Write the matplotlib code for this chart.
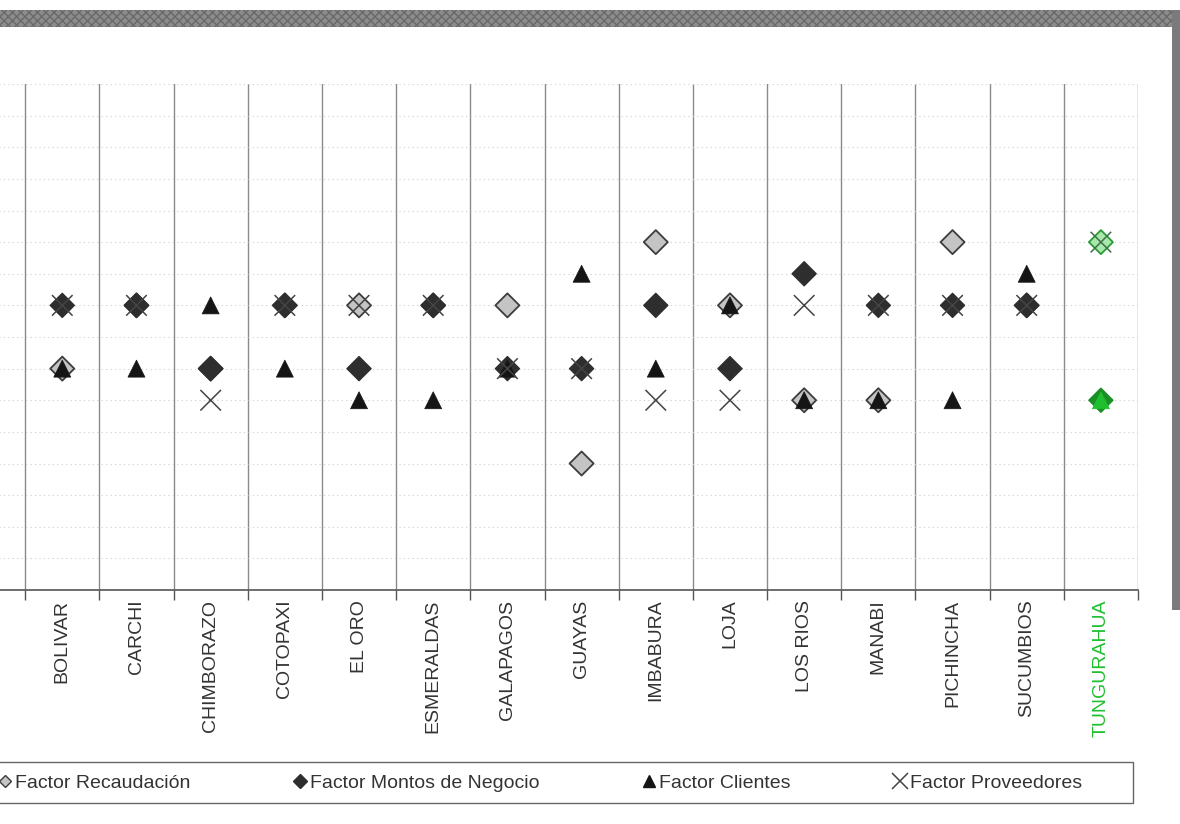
import matplotlib.pyplot as plt
import numpy as np
from matplotlib.lines import Line2D
from matplotlib.patches import Rectangle

plt.rcParams['font.family'] = ['Liberation Sans', 'DejaVu Sans']

nan = np.nan
provincias = ["AZUAY", "BOLIVAR", "CARCHI", "CHIMBORAZO", "COTOPAXI", "EL ORO",
              "ESMERALDAS", "GALAPAGOS", "GUAYAS", "IMBABURA", "LOJA", "LOS RIOS",
              "MANABI", "PICHINCHA", "SUCUMBIOS", "TUNGURAHUA"]
recaudacion = [nan, 7, 9, 7, 9, 9, 9, 9, 4, 11, 9, 6, 6, 11, 9, 11]
montos = [nan, 9, 9, 7, 9, 7, 9, 7, 7, 9, 7, 10, 9, 9, 9, 6]
clientes = [nan, 7, 7, 9, 7, 6, 6, 7, 10, 7, 9, 6, 6, 6, 10, 6]
proveedores = [nan, 9, 9, 6, 9, 9, 9, 7, 7, 6, 6, 9, 9, 9, 9, 11]

verde = "#1fbf2f"
x = np.arange(len(provincias))

fig = plt.figure(figsize=(11.8, 8.24), dpi=100)

# marco gris del area del grafico
fig.patches.append(Rectangle((0, 1 - 27 / 824), 1175 / 1180, 17 / 824, transform=fig.transFigure,
                             facecolor="#8c8c8c", edgecolor="#6a6a6a", lw=0, hatch="xxxx", zorder=0))
fig.patches.append(Rectangle((1172 / 1180, 1 - 610 / 824), 8 / 1180, 600 / 824, transform=fig.transFigure,
                             facecolor="#7a7a7a", edgecolor="none", zorder=0))

ax = fig.add_axes([-49 / 1180, 1 - 590 / 824, 1187 / 1180, 506 / 824])
ax.set_xlim(-0.5, len(provincias) - 0.5)
ax.set_ylim(0, 16)

# lineas verticales entre provincias y horizontales punteadas
ax.set_xticks(x + 0.5, minor=True)
ax.set_xticks(x)
ax.set_yticks(np.arange(0, 17, 1))
ax.grid(which="minor", axis="x", color="#8a8a8a", lw=1.0)
ax.grid(which="major", axis="y", color="#cdcdcd", lw=0.8, linestyle=(0, (1, 3)))
ax.set_axisbelow(True)

for s in ["top", "right", "left"]:
    ax.spines[s].set_visible(False)
ax.spines["bottom"].set_color("#555555")
ax.spines["bottom"].set_linewidth(1.2)
ax.tick_params(axis="x", which="major", length=0, pad=7)
ax.tick_params(axis="x", which="minor", length=7, color="#555555", width=1)
ax.tick_params(axis="y", length=0, labelleft=False)
ax.set_xticklabels(provincias, rotation=90, fontsize=14, color="#333333", va="top")
ax.get_xticklabels()[-1].set_color(verde)

def colores(base, ultimo=verde):
    return [base] * (len(provincias) - 1) + [ultimo]

ax.scatter(x, recaudacion, marker="D", s=150, facecolors=colores("#c4c4c4", "#a8e8ad"),
           edgecolors=colores("#3c3c3c", "#2a9a35"), linewidths=1.3, zorder=3)
ax.scatter(x, montos, marker="D", s=150, facecolors=colores("#2e2e2e", "#1a8f26"),
           edgecolors=colores("#2e2e2e", "#1a8f26"), linewidths=1, zorder=4)
ax.scatter(x, clientes, marker="^", s=150, facecolors=colores("#151515"),
           edgecolors=colores("#151515"), linewidths=0.5, zorder=5)
ax.scatter(x, proveedores, marker="x", s=220, c=colores("#444444", "#3d6e45"), linewidths=1.1, zorder=6)

# leyenda con recuadro
fig.patches.append(Rectangle((-10 / 1180, 1 - 803 / 824), 1143 / 1180, 41 / 824, transform=fig.transFigure,
                             facecolor="white", edgecolor="#666666", lw=1.0, zorder=1))
handles = [
    Line2D([], [], ls="none", marker="D", ms=6, mfc="#c4c4c4", mec="#3c3c3c", mew=1),
    Line2D([], [], ls="none", marker="D", ms=7, mfc="#2e2e2e", mec="#2e2e2e"),
    Line2D([], [], ls="none", marker="^", ms=8, mfc="#151515", mec="#151515"),
    Line2D([], [], ls="none", marker="x", ms=11, mec="#444444", mew=1.1),
]
etiquetas = ["Factor Recaudación", "Factor Montos de Negocio", "Factor Clientes", "Factor Proveedores"]
leg = fig.legend(handles, etiquetas, loc="center left", bbox_to_anchor=(-11 / 1180, 1 - 783 / 824),
                 ncol=4, frameon=False, fontsize=14, handlelength=0.6, handletextpad=0.25,
                 columnspacing=5.3, borderpad=0)
for t in leg.get_texts():
    t.set_color("#333333")

fig.savefig("out.png", dpi=100)
